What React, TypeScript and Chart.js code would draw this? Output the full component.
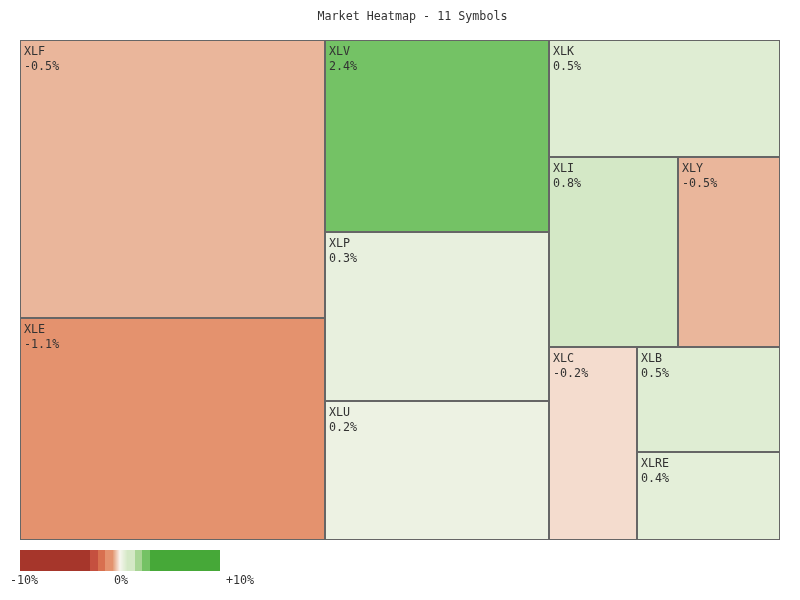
import React, { useEffect, useRef } from 'react';
import { Chart, registerables } from 'chart.js';

Chart.register(...registerables);

const TITLE = 'Market Heatmap - 11 Symbols';
const SYMBOLS = ['XLF', 'XLE', 'XLV', 'XLP', 'XLU', 'XLK', 'XLI', 'XLY', 'XLC', 'XLB', 'XLRE'];
// relative size (weight, %) of each symbol
const WEIGHTS = [22.31, 17.82, 11.32, 9.96, 8.19, 7.11, 6.45, 5.1, 4.47, 3.95, 3.31];
// daily change, %
const CHANGES = [-0.5, -1.1, 2.4, 0.3, 0.2, 0.5, 0.8, -0.5, -0.2, 0.5, 0.4];
// how many symbols go into each squarified row/column
const ROW_SIZES = [2, 3, 1, 2, 1, 1, 1];
const LEGEND_MIN = -10;
const LEGEND_MAX = 10;
const LEGEND_LABELS = ['-10%', '0%', '+10%'];

const FONT = '"DejaVu Sans Mono", monospace';
const FONT_SIZE = 11.7;
const TEXT_COLOR = '#333333';
const BORDER_COLOR = '#666666';

type RGB = [number, number, number];
const lerp = (a: RGB, b: RGB, t: number): RGB => [
  a[0] + (b[0] - a[0]) * t,
  a[1] + (b[1] - a[1]) * t,
  a[2] + (b[2] - a[2]) * t,
];
const css = (c: RGB) => `rgb(${Math.round(c[0])},${Math.round(c[1])},${Math.round(c[2])})`;

function colorFor(v: number): string {
  if (v <= -3) return css([166, 54, 43]);
  if (v <= -2.25) return css([197, 80, 63]);
  if (v <= -1.5) return css([216, 112, 79]);
  if (v <= -0.75) return css([228, 146, 110]);
  if (v < 0) return css(lerp([226, 150, 112], [250, 245, 240], (v + 0.75) / 0.75));
  if (v < 0.75) return css(lerp([246, 246, 238], [212, 232, 198], v / 0.75));
  if (v < 1.5) return css([212, 232, 198]);
  if (v < 2.25) return css([168, 213, 149]);
  if (v < 3) return css([116, 194, 101]);
  return css([70, 168, 56]);
}

interface Cell { x: number; y: number; w: number; h: number; }

function layoutRows(values: number[], rows: number[], W: number, H: number): Cell[] {
  const total = values.reduce((a, b) => a + b, 0);
  const scale = (W * H) / total;
  let x = 0, y = 0, w = W, h = H, i = 0;
  const out: Cell[] = [];
  for (const n of rows) {
    const row = values.slice(i, i + n);
    const area = row.reduce((a, b) => a + b, 0) * scale;
    if (w / h > 0.9) {
      const cw = area / h;
      let yy = y;
      for (const v of row) {
        const ch = (v * scale) / cw;
        out.push({ x, y: yy, w: cw, h: ch });
        yy += ch;
      }
      x += cw; w -= cw;
    } else {
      const rh = area / w;
      let xx = x;
      for (const v of row) {
        const cw = (v * scale) / rh;
        out.push({ x: xx, y, w: cw, h: rh });
        xx += cw;
      }
      y += rh; h -= rh;
    }
    i += n;
  }
  return out;
}

const treemapPlugin = {
  id: 'treemapCells',
  afterDatasetsDraw(chart: any) {
    const { ctx, chartArea } = chart;
    const xs = chart.scales.x;
    const ys = chart.scales.y;
    const W = xs.getPixelForValue(1) - xs.getPixelForValue(0);
    const H = ys.getPixelForValue(1) - ys.getPixelForValue(0);
    const cells = layoutRows(WEIGHTS, ROW_SIZES, W, H);
    ctx.save();
    cells.forEach((c, idx) => {
      const L = Math.round(xs.getPixelForValue(c.x / W));
      const R = Math.round(xs.getPixelForValue((c.x + c.w) / W));
      const T = Math.round(ys.getPixelForValue(c.y / H));
      const B = Math.round(ys.getPixelForValue((c.y + c.h) / H));
      ctx.fillStyle = colorFor(CHANGES[idx]);
      ctx.fillRect(L, T, R - L, B - T);
      ctx.strokeStyle = BORDER_COLOR;
      ctx.lineWidth = 1;
      ctx.strokeRect(L + 0.5, T + 0.5, R - L - 1, B - T - 1);
      ctx.fillStyle = TEXT_COLOR;
      ctx.font = `${FONT_SIZE}px ${FONT}`;
      ctx.textAlign = 'left';
      ctx.textBaseline = 'alphabetic';
      ctx.fillText(SYMBOLS[idx], L + 4, T + 15);
      ctx.fillText(`${CHANGES[idx].toFixed(1)}%`, L + 4, T + 30);
    });

    // title
    ctx.fillStyle = TEXT_COLOR;
    ctx.font = `${FONT_SIZE}px ${FONT}`;
    ctx.textAlign = 'center';
    ctx.fillText(TITLE, (chartArea.left + chartArea.right) / 2 + 12.5, 20);

    // colour legend
    const lx = chartArea.left;
    const ly = chartArea.bottom + 10;
    const lw = 200;
    const lh = 21;
    for (let i = 0; i < lw; i++) {
      const v = LEGEND_MIN + ((i + 0.5) / lw) * (LEGEND_MAX - LEGEND_MIN);
      ctx.fillStyle = colorFor(v);
      ctx.fillRect(lx + i, ly, 1, lh);
    }
    ctx.fillStyle = TEXT_COLOR;
    ctx.font = `${FONT_SIZE}px ${FONT}`;
    ctx.textAlign = 'left';
    ctx.fillText(LEGEND_LABELS[0], lx - 10, ly + 34);
    ctx.fillText(LEGEND_LABELS[1], lx + lw / 2 - 6, ly + 34);
    ctx.fillText(LEGEND_LABELS[2], lx + lw + 6, ly + 34);
    ctx.restore();
  },
};

export default function App() {
  const ref = useRef<HTMLCanvasElement>(null);
  useEffect(() => {
    const canvas = ref.current;
    if (!canvas) return;
    const chart = new Chart(canvas, {
      type: 'scatter',
      data: { datasets: [{ data: [] }] },
      options: {
        animation: false,
        responsive: false,
        layout: { padding: { left: 20, right: 20, top: 40, bottom: 60 } },
        scales: {
          x: { type: 'linear', min: 0, max: 1, display: false },
          y: { type: 'linear', min: 0, max: 1, reverse: true, display: false },
        },
        plugins: {
          legend: { display: false },
          title: { display: false },
          tooltip: { enabled: false },
        },
      },
      plugins: [treemapPlugin],
    });
    return () => chart.destroy();
  }, []);
  return (
    <div style={{ position: 'fixed', left: 0, top: 0, width: 800, height: 600, background: '#ffffff' }}>
      <canvas ref={ref} width={800} height={600} style={{ display: 'block' }} />
    </div>
  );
}
